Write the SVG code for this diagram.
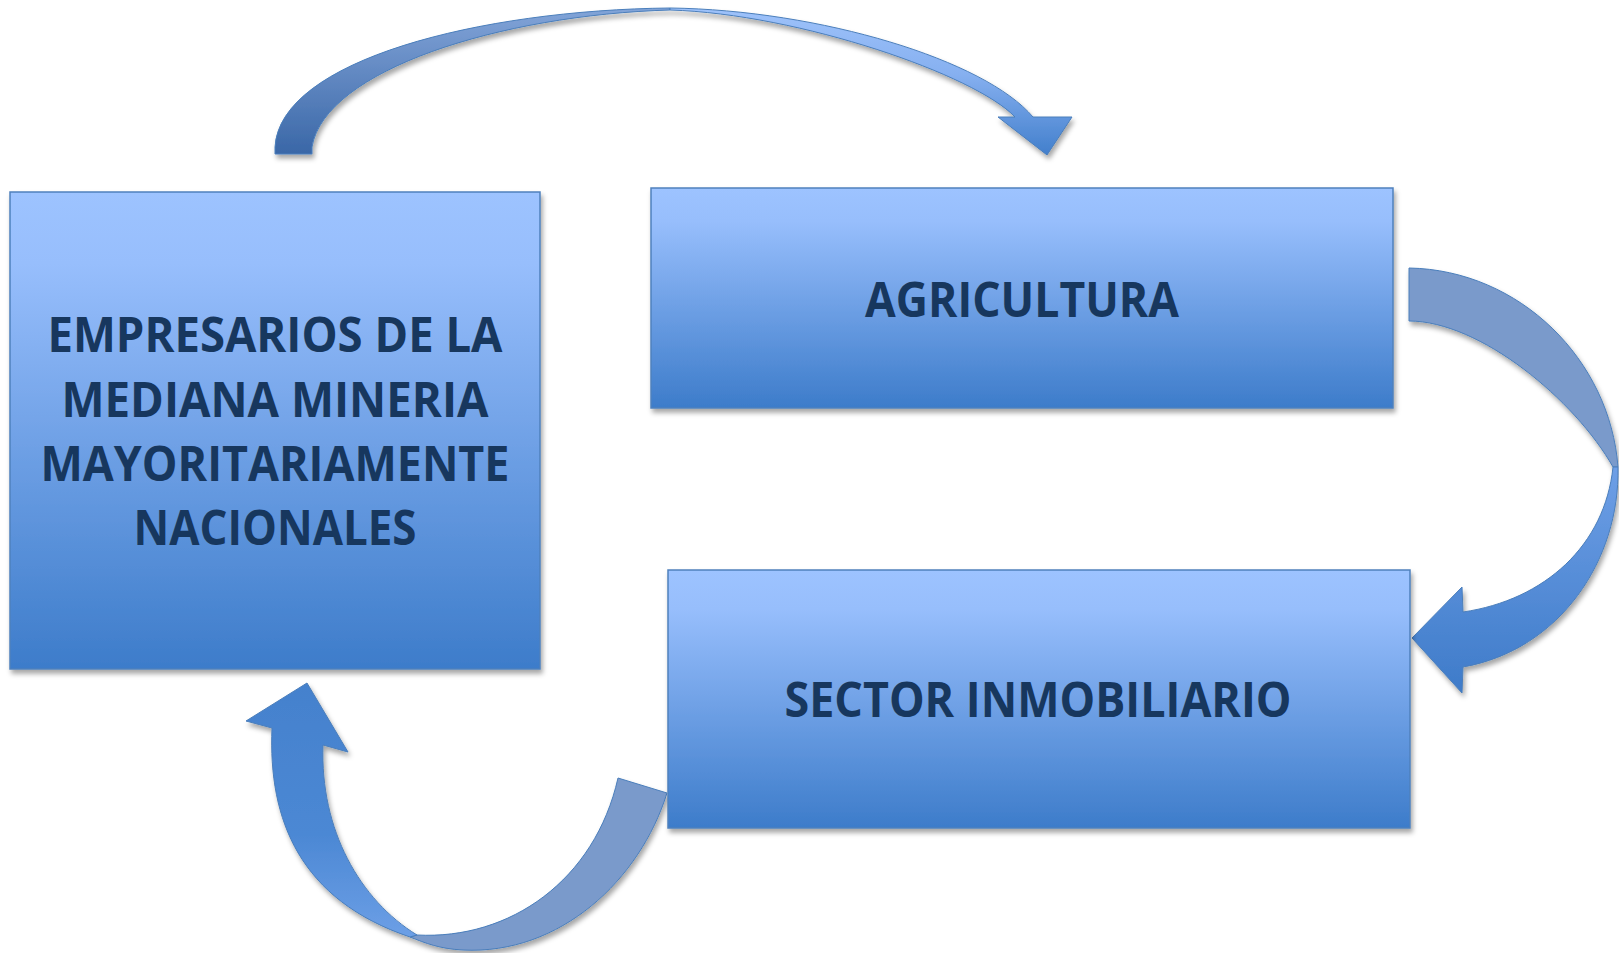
<svg xmlns="http://www.w3.org/2000/svg" width="1619" height="953" viewBox="0 0 1619 953">
<defs>
<linearGradient id="boxGrad" x1="0" y1="0" x2="0" y2="1">
<stop offset="0" stop-color="#9DC3FF"/>
<stop offset="0.15" stop-color="#97BEFC"/>
<stop offset="1" stop-color="#3D7CCA"/>
</linearGradient>
<linearGradient id="topLeftGrad" x1="0" y1="0" x2="0" y2="1">
<stop offset="0" stop-color="#82A4D8"/>
<stop offset="1" stop-color="#3A67A7"/>
</linearGradient>
<linearGradient id="topRightGrad" x1="0" y1="0" x2="0" y2="1">
<stop offset="0" stop-color="#9EC2FA"/>
<stop offset="0.45" stop-color="#86B0F0"/>
<stop offset="1" stop-color="#427FCC"/>
</linearGradient>
<linearGradient id="rightLowGrad" x1="0" y1="0" x2="0" y2="1">
<stop offset="0" stop-color="#6E9FE6"/>
<stop offset="1" stop-color="#3E7BC9"/>
</linearGradient>
<linearGradient id="botLeftGrad" x1="0" y1="0" x2="0" y2="1">
<stop offset="0" stop-color="#4481CD"/>
<stop offset="0.6" stop-color="#4C88D4"/>
<stop offset="1" stop-color="#6C9FE6"/>
</linearGradient>
<filter id="shadow" x="-5%" y="-5%" width="115%" height="115%">
<feDropShadow dx="2" dy="4" stdDeviation="2.5" flood-color="#000" flood-opacity="0.35"/>
</filter>
</defs>
<style>
.box { fill: url(#boxGrad); stroke: #4F81BD; stroke-width: 1.5; filter: url(#shadow); }
.lbl { font-family: "Open Sans", "Liberation Sans", Arial, sans-serif; font-weight: bold; font-size: 48px; fill: #17375E; text-anchor: middle; }
.arr { stroke: #4A7EBB; stroke-width: 1; stroke-linejoin: round; }
.muted { fill: #7A9ACB; }
</style>
<rect width="1619" height="953" fill="#FFFFFF"/>

<g id="connectors" filter="url(#shadow)">
<g id="arrow-top">
<path class="arr" fill="url(#topLeftGrad)" d="M275,154 L275,147 C280,60 480,10 670,8 L670,10 C500,15 325,70 312,147 L312,154 Z"/>
<path class="arr" fill="url(#topRightGrad)" d="M670,8 C820,10 985,60 1033,117 L1072,117 L1047,155 L998,117 L1015,117 C975,75 800,14 670,10 Z"/>
</g>
<g id="arrow-right">
<path class="arr muted" d="M1409,268 C1520,270 1610,360 1618,467 L1613,467 C1575,400 1480,321 1409,321 Z"/>
<path class="arr" fill="url(#rightLowGrad)" d="M1613,467 L1618,467 C1620,560 1560,650 1463,667 L1462,693 L1412,638 L1462,587 L1463,612 C1545,600 1605,545 1613,467 Z"/>
</g>
<g id="arrow-bottom">
<path class="arr muted" d="M618,778 L667,793 C640,880 560,955 463,950 C440,949 425,943 410,937 L417,935 C510,940 595,880 618,778 Z"/>
<path class="arr" fill="url(#botLeftGrad)" d="M272,728 C268,820 300,900 410,937 L417,935 C360,900 320,830 323,745 L348,752 L307,683 L246,721 Z"/>
</g>
</g>

<g id="node-empresarios">
<rect class="box" x="10" y="192" width="530" height="477"/>
<text class="lbl" x="275" y="352" textLength="455" lengthAdjust="spacingAndGlyphs">EMPRESARIOS DE LA</text>
<text class="lbl" x="275" y="417" textLength="427" lengthAdjust="spacingAndGlyphs">MEDIANA MINERIA</text>
<text class="lbl" x="275" y="481" textLength="469" lengthAdjust="spacingAndGlyphs">MAYORITARIAMENTE</text>
<text class="lbl" x="275" y="545" textLength="283" lengthAdjust="spacingAndGlyphs">NACIONALES</text>
</g>

<g id="node-agricultura">
<rect class="box" x="651" y="188" width="742" height="220"/>
<text class="lbl" x="1022" y="317" textLength="314" lengthAdjust="spacingAndGlyphs">AGRICULTURA</text>
</g>

<g id="node-sector">
<rect class="box" x="668" y="570" width="742" height="258"/>
<text class="lbl" x="1038" y="717" textLength="507" lengthAdjust="spacingAndGlyphs">SECTOR INMOBILIARIO</text>
</g>
</svg>
